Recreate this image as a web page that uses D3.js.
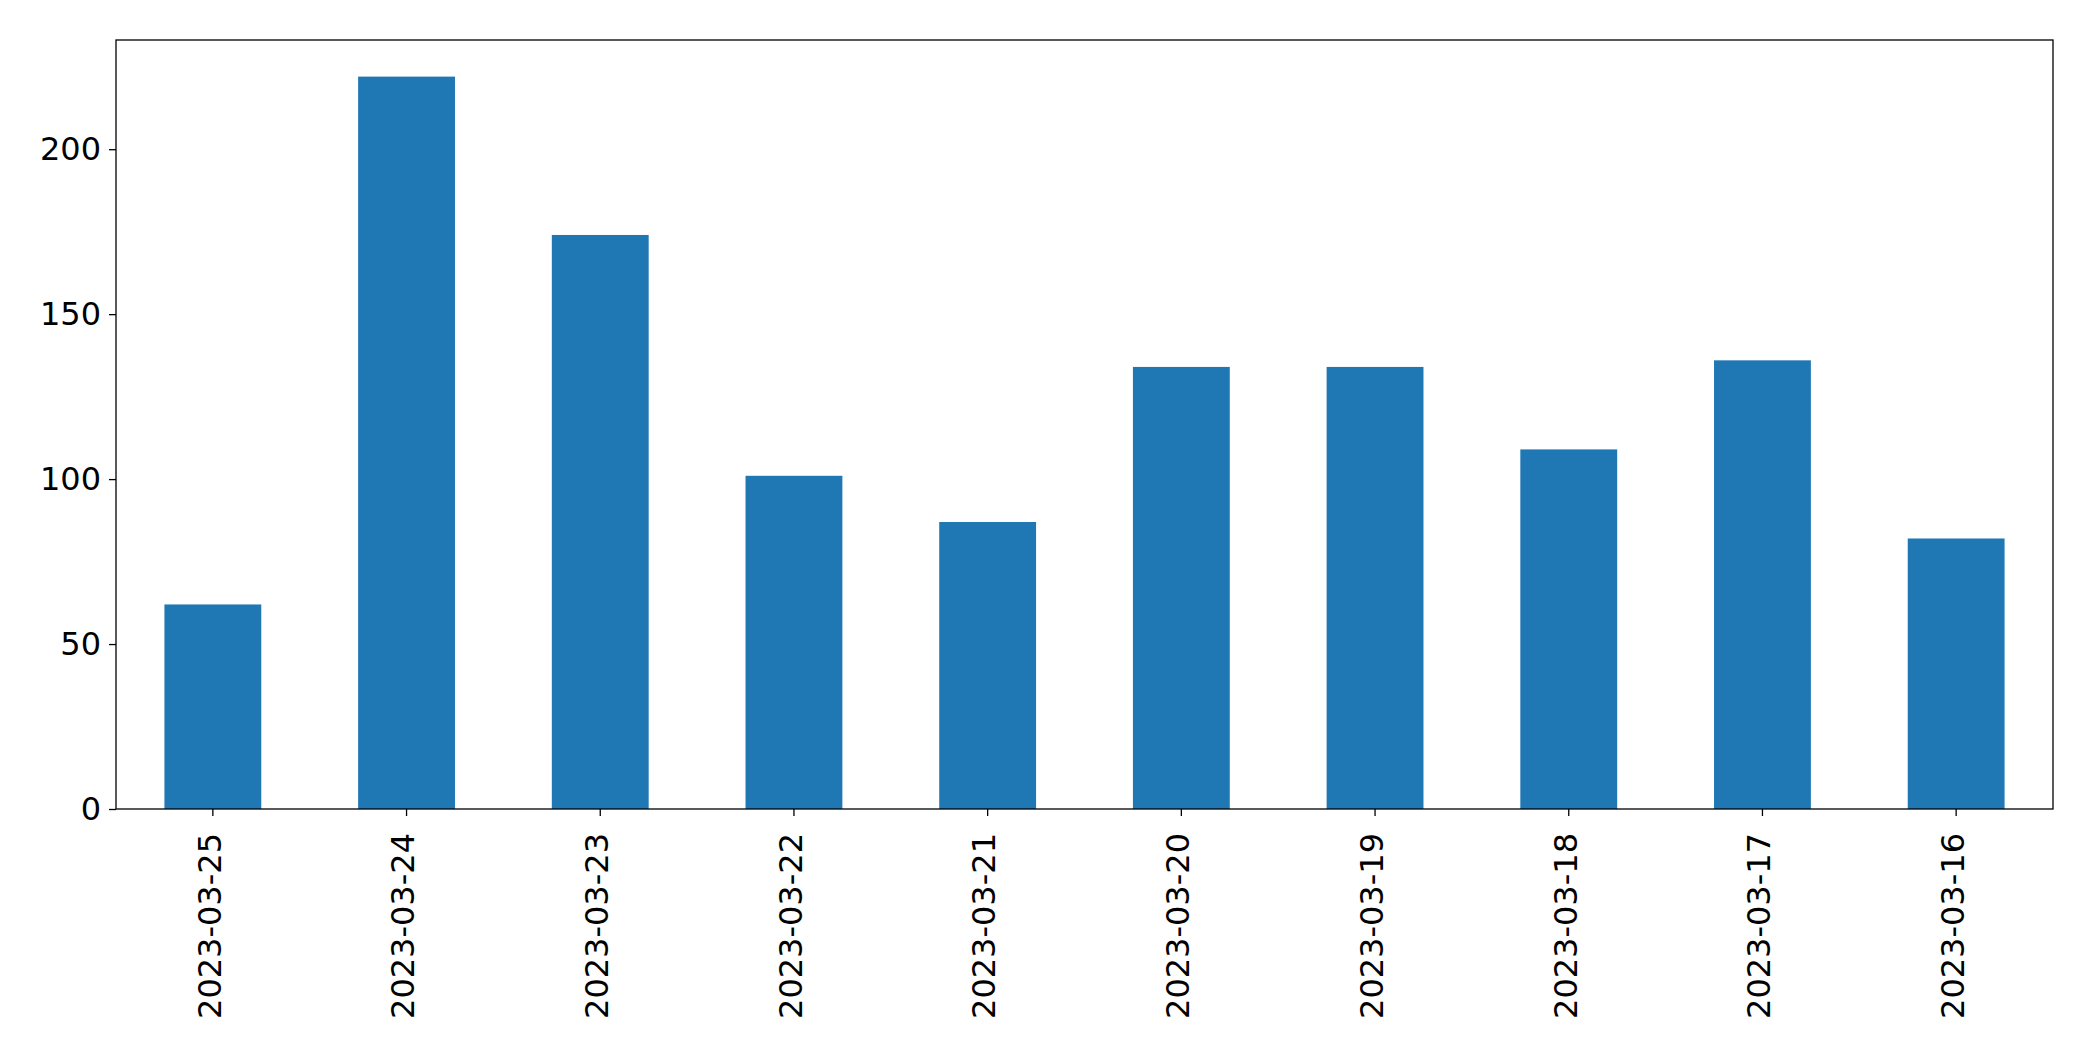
<!DOCTYPE html>
<html><head><meta charset="utf-8">
<script src="https://cdn.jsdelivr.net/npm/d3@7"></script>
<style>body{margin:0;background:#fff}text{font-family:"DejaVu Sans",sans-serif}</style>
</head><body><svg id="c" width="2093" height="1061"></svg>
<script>
const categories=["2023-03-25","2023-03-24","2023-03-23","2023-03-22","2023-03-21","2023-03-20","2023-03-19","2023-03-18","2023-03-17","2023-03-16"];
const values=[62,222,174,101,87,134,134,109,136,82];
const yTicks=[0,50,100,150,200];
const m={l:116,r:2053,t:40,b:809};
const svg=d3.select("#c");
const x=d3.scaleBand().domain(categories).range([m.l,m.r]).paddingInner(0.5).paddingOuter(0.25);
const y=d3.scaleLinear().domain([0,d3.max(values)*1.05]).range([m.b,m.t]);
svg.selectAll("rect.bar").data(values).join("rect").attr("class","bar")
 .attr("x",(d,i)=>x(categories[i])).attr("width",x.bandwidth())
 .attr("y",d=>y(d)).attr("height",d=>y(0)-y(d)).attr("fill","#1f77b4");
const ya=svg.append("g").attr("transform",`translate(${m.l},0)`).call(d3.axisLeft(y).tickValues(yTicks).tickSize(7).tickPadding(8));
ya.selectAll("text").attr("font-size",32).attr("fill","#000");
const xa=svg.append("g").attr("transform",`translate(0,${m.b})`).call(d3.axisBottom(x).tickSize(7).tickPadding(8));
xa.selectAll("text").attr("font-size",32).attr("fill","#000")
 .attr("transform","rotate(-90)").attr("text-anchor","end").attr("dx","-0.5em").attr("dy","-0.1em").attr("x",-8).attr("y",0).style("dominant-baseline","central");
svg.selectAll(".domain").remove();
svg.selectAll(".tick line").attr("stroke","#000").attr("stroke-width",1.3);
svg.append("rect").attr("x",m.l).attr("y",m.t).attr("width",m.r-m.l).attr("height",m.b-m.t).attr("fill","none").attr("stroke","#000").attr("stroke-width",1.3);
</script></body></html>
